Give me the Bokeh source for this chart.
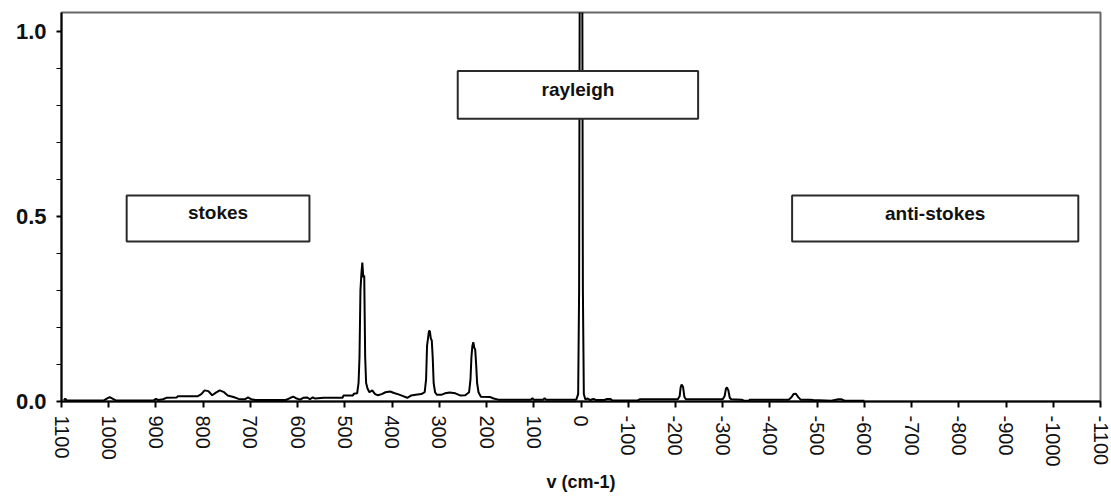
import math
from bokeh.plotting import figure
from bokeh.models import Range1d, FixedTicker, PrintfTickFormatter, ColumnDataSource
from bokeh.core.properties import value
from bokeh.embed import file_html
from bokeh.resources import INLINE

# ---- data ----
wavenumber = [1095, 1092, 1089, 1010, 1005, 998, 991, 985, 905, 900, 895, 885, 878, 856, 854, 812,
              804, 797, 789, 781, 773, 765, 757, 748, 736, 725,
              712, 705, 698, 690, 625, 615, 609, 602, 595, 588, 580, 574, 568, 563, 545, 505, 503, 483, 481, 474,
              471, 469, 467, 465, 463, 461, 459, 457, 455, 452, 448, 442, 436, 430, 422, 414, 404, 396, 388,
              378, 368, 360, 350, 338, 331,
              328, 326, 324, 322, 320, 318, 316, 314, 312, 309, 305, 296, 288, 278, 266, 255, 245, 237,
              234, 232, 230, 228, 226, 224, 222, 220, 217, 212, 192, 185, 175, 106, 103, 100, 80, 77, 74, 10,
              6, 4, 2, -2, -4, -6, -9, -14, -20, -26, -32, -50, -55, -62, -66, -120, -125, -205,
              -209, -211, -213, -216, -219, -222, -300,
              -304, -307, -309, -312, -315, -318, -340, -345, -355, -358, -420,
              -440, -446, -450, -455, -460, -465, -485, -492, -530, -545, -552, -558, -600]
intensity = [0.003, 0.008, 0.003, 0.003, 0.007, 0.012, 0.007, 0.003, 0.003, 0.007, 0.004, 0.006, 0.010, 0.011, 0.014, 0.014,
             0.020, 0.030, 0.028, 0.017, 0.024, 0.030, 0.026, 0.016, 0.012, 0.007,
             0.006, 0.011, 0.006, 0.004, 0.004, 0.010, 0.013, 0.008, 0.005, 0.010, 0.011, 0.006, 0.011, 0.008, 0.010, 0.010, 0.016, 0.016, 0.021, 0.022,
             0.050, 0.120, 0.300, 0.345, 0.375, 0.335, 0.340, 0.120, 0.050, 0.035, 0.025, 0.030, 0.020, 0.017, 0.020, 0.025, 0.027, 0.023, 0.020,
             0.015, 0.010, 0.016, 0.018, 0.020, 0.025,
             0.060, 0.150, 0.170, 0.190, 0.190, 0.170, 0.165, 0.120, 0.050, 0.025, 0.018, 0.018, 0.022, 0.024, 0.022, 0.016, 0.017, 0.025,
             0.060, 0.120, 0.150, 0.160, 0.145, 0.140, 0.100, 0.050, 0.025, 0.013, 0.012, 0.008, 0.005, 0.005, 0.009, 0.005, 0.005, 0.009, 0.005, 0.005,
             0.020, 0.300, 1.600, 1.600, 0.300, 0.020, 0.006, 0.008, 0.004, 0.007, 0.004, 0.004, 0.007, 0.007, 0.003, 0.003, 0.006, 0.006,
             0.015, 0.038, 0.046, 0.040, 0.012, 0.006, 0.006,
             0.014, 0.035, 0.038, 0.030, 0.010, 0.006, 0.005, 0.002, 0.002, 0.005, 0.005,
             0.005, 0.012, 0.020, 0.021, 0.012, 0.005, 0.005, 0.004, 0.002, 0.006, 0.006, 0.002, 0.002]

x_ticks = [1100, 1000, 900, 800, 700, 600, 500, 400, 300, 200, 100, 0,
           -100, -200, -300, -400, -500, -600, -700, -800, -900, -1000, -1100]
y_ticks = [0.0, 0.5, 1.0]
y_minor = [0.1, 0.2, 0.3, 0.4, 0.6, 0.7, 0.8, 0.9]

box_names = ["stokes", "rayleigh", "anti-stokes"]
box_left = [962, 261, -447]
box_right = [575, -248, -1053]
box_top = [0.556, 0.892, 0.556]
box_bottom = [0.432, 0.763, 0.432]
label_x = [768.5, 6.5, -750]
label_y = [0.51, 0.842, 0.507]

# ---- figure ----
p = figure(width=1110, height=494, output_backend="svg", toolbar_location=None,
           x_range=Range1d(1100, -1100), y_range=Range1d(0, 1.05),
           min_border_left=61, min_border_right=10, min_border_top=12, min_border_bottom=20)
p.xgrid.visible = False
p.ygrid.visible = False
p.outline_line_color = "#666666"
p.outline_line_width = 2
p.background_fill_color = "white"
p.border_fill_color = "white"

p.line(wavenumber, intensity, line_color="black", line_width=2)

boxes = ColumnDataSource(dict(left=box_left, right=box_right, top=box_top, bottom=box_bottom,
                              name=box_names, lx=label_x, ly=label_y))
p.quad(left="left", right="right", top="top", bottom="bottom", source=boxes,
       fill_color="white", line_color="#2a2a2a", line_width=2)
p.text(x="lx", y="ly", text="name", source=boxes, text_align="center", text_baseline="middle",
       text_font=value("Liberation Sans"), text_font_style="bold", text_font_size="19px",
       text_color="#111111")

# x axis
xa = p.xaxis[0]
xa.ticker = FixedTicker(ticks=x_ticks, minor_ticks=[])
xa.major_label_overrides = {t: str(t) for t in x_ticks}
xa.major_label_orientation = -math.pi / 2
xa.major_label_text_font = "Liberation Sans"
xa.major_label_text_font_size = "20px"
xa.major_label_text_color = "#111111"
xa.major_label_standoff = 8
xa.major_tick_out = 6
xa.major_tick_in = 0
xa.major_tick_line_color = "black"
xa.major_tick_line_width = 2
xa.axis_line_color = "black"
xa.axis_line_width = 2
xa.axis_label = "v (cm-1)"
xa.axis_label_text_font = "Liberation Sans"
xa.axis_label_text_font_style = "bold"
xa.axis_label_text_font_size = "18px"
xa.axis_label_text_color = "#111111"
xa.axis_label_standoff = 2

# y axis
ya = p.yaxis[0]
ya.ticker = FixedTicker(ticks=y_ticks, minor_ticks=y_minor)
ya.formatter = PrintfTickFormatter(format="%.1f")
ya.major_label_text_font = "Liberation Sans"
ya.major_label_text_font_style = "bold"
ya.major_label_text_font_size = "22px"
ya.major_label_text_color = "#111111"
ya.major_label_standoff = 10
ya.major_tick_out = 5
ya.major_tick_in = 0
ya.minor_tick_out = 5
ya.minor_tick_in = 0
ya.major_tick_line_width = 2
ya.minor_tick_line_width = 1
ya.axis_line_color = "black"
ya.axis_line_width = 2

open("out.html", "w").write(file_html(p, INLINE))
